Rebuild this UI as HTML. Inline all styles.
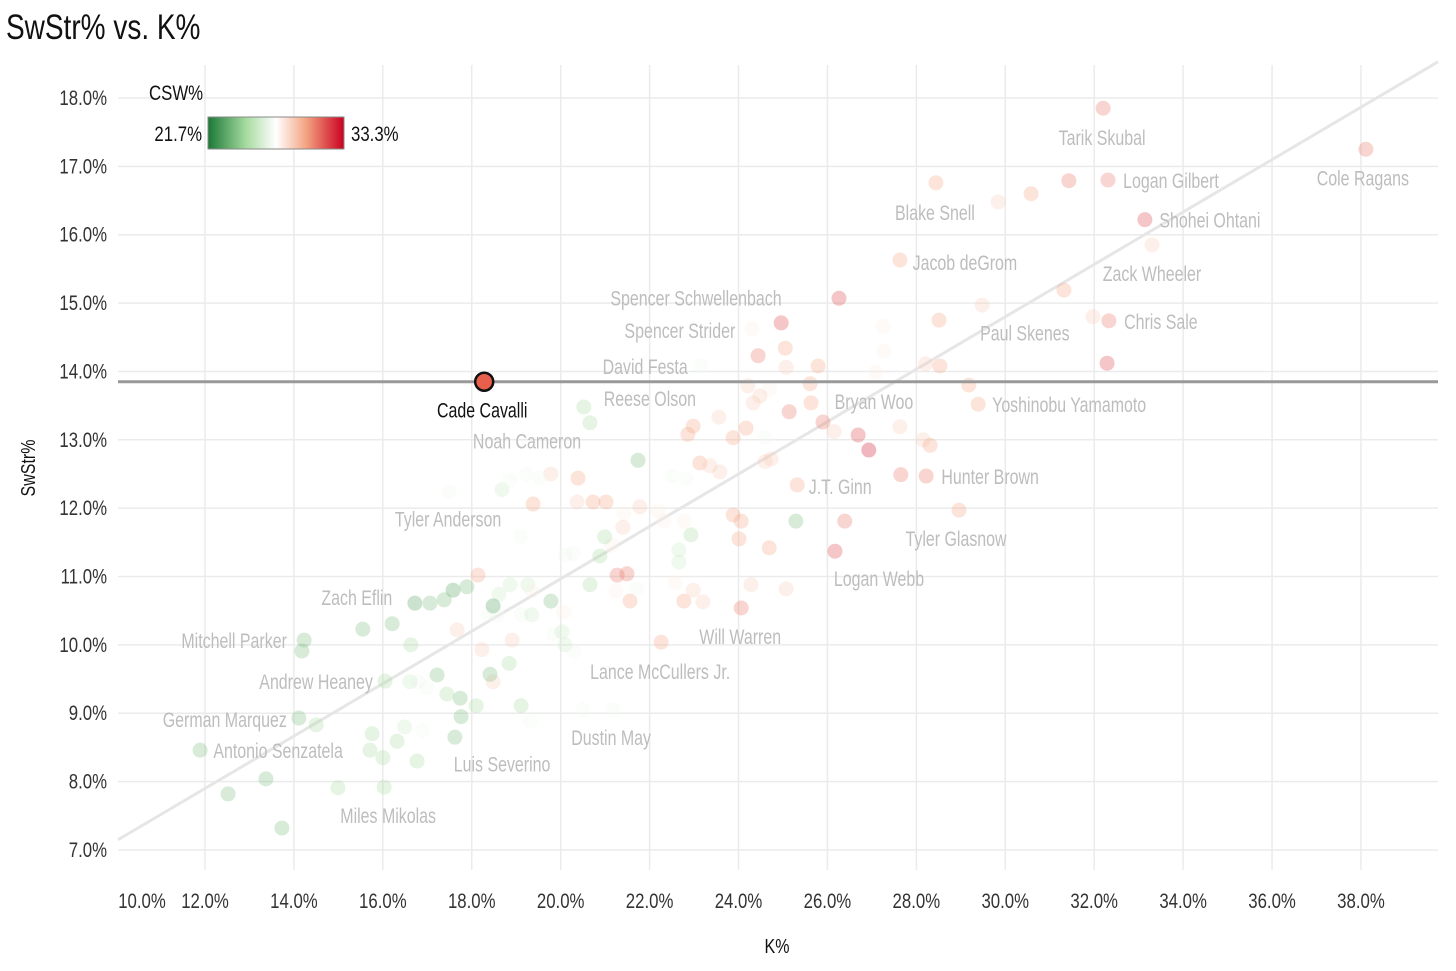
<!DOCTYPE html>
<html><head><meta charset="utf-8"><style>
body{margin:0;background:#fff;}
svg{display:block;font-family:"Liberation Sans Narrow","Liberation Sans",sans-serif;}
</style></head><body>
<svg id="chart" width="1456" height="971" viewBox="0 0 1456 971">
<text class="sq" data-sx="0.8" x="6" y="39" font-size="35" fill="#111">SwStr% vs. K%</text>
<g id="grid"></g>
<g id="marks"></g>
<text transform="translate(35,468) rotate(-90) scale(0.8,1)" text-anchor="middle" font-size="20" fill="#111">SwStr%</text>
<text class="sq" data-sx="0.8" x="777" y="953" text-anchor="middle" font-size="20" fill="#111">K%</text>
<g>
<defs><linearGradient id="cg" x1="0" x2="1" y1="0" y2="0">
<stop offset="0" stop-color="#1b7837"/><stop offset="0.28" stop-color="#a6dba0"/><stop offset="0.5" stop-color="#ffffff"/><stop offset="0.72" stop-color="#f4a582"/><stop offset="1" stop-color="#ca0020"/></linearGradient></defs>
<text class="sq" data-sx="0.8" x="149" y="100" font-size="21" fill="#111">CSW%</text>
<rect x="208" y="117" width="136" height="32" fill="url(#cg)" stroke="#888" stroke-width="1"/>
<text class="sq" data-sx="0.8" x="202" y="141" text-anchor="end" font-size="21" fill="#111">21.7%</text>
<text class="sq" data-sx="0.8" x="351" y="141" font-size="21" fill="#111">33.3%</text>
</g>
</svg>
<script>
const players=["Tarik Skubal","Cole Ragans","Logan Gilbert","Shohei Ohtani","Blake Snell","Jacob deGrom","Zack Wheeler","Chris Sale","Paul Skenes","Spencer Schwellenbach","Spencer Strider","David Festa","Reese Olson","Bryan Woo","Yoshinobu Yamamoto","Noah Cameron","Hunter Brown","J.T. Ginn","Tyler Anderson","Tyler Glasnow","Logan Webb","Zach Eflin","Will Warren","Mitchell Parker","Lance McCullers Jr.","Andrew Heaney","German Marquez","Dustin May","Antonio Senzatela","Luis Severino","Miles Mikolas"];
const playerK=[32.20,38.11,32.31,33.14,28.44,27.63,33.30,32.33,31.97,26.26,24.30,23.16,24.21,25.63,29.39,20.66,28.22,25.32,17.49,28.96,26.17,16.72,24.06,14.23,22.26,16.05,14.11,21.18,11.89,17.76,16.03];
const playerSw=[17.85,17.25,16.80,16.22,16.76,15.63,15.85,14.74,14.80,15.07,14.62,14.08,13.79,13.54,13.52,13.25,12.47,12.34,12.24,11.97,11.37,10.61,10.54,10.07,10.04,9.47,8.93,9.05,8.46,8.95,7.92];
const playerCsw=[31,31,31,32,30,30,29,31,29,32,28,27,29,30,30,25,31,30,27,30,32,23,31,24,30,25,24,27,24,24,25];
const otherK=[29.84,30.58,31.43,31.32,32.29,29.48,28.51,27.25,27.27,27.09,28.21,28.53,29.18,28.15,28.31,27.63,26.69,26.93,25.90,26.15,25.14,25.61,25.79,25.05,24.96,25.07,24.44,24.69,24.33,24.48,24.17,23.88,24.60,23.56,22.98,22.86,23.13,23.36,23.58,24.60,24.73,22.82,22.50,23.88,24.06,24.01,24.69,24.28,25.07,26.39,25.29,27.65,22.77,23.20,22.98,22.57,22.66,22.66,22.93,22.77,22.32,22.19,21.78,21.42,21.40,21.15,20.99,20.88,21.27,21.49,21.56,21.24,21.72,20.66,20.37,20.39,20.73,21.02,19.38,19.78,19.24,19.53,21.74,20.52,20.10,20.28,19.09,18.14,18.86,19.26,19.35,18.61,18.57,18.37,19.11,19.35,19.78,20.07,19.83,20.03,20.10,20.30,18.91,18.23,17.67,18.48,18.84,18.41,18.10,17.74,17.44,17.22,17.62,19.11,19.31,20.50,16.90,16.49,16.99,16.79,16.61,16.32,15.76,15.71,16.00,16.77,14.99,14.50,13.37,12.52,13.73,14.18,15.55,16.21,16.63,17.06,17.38,17.58,17.89,18.48,18.68,18.86];
const otherSw=[16.48,16.60,16.79,15.19,14.12,14.97,14.75,14.66,14.30,13.99,14.11,14.08,13.80,13.00,12.92,13.19,13.07,12.85,13.26,13.12,13.41,13.82,14.08,14.34,14.71,14.06,14.23,13.74,13.54,13.64,13.17,13.03,13.03,13.33,13.20,13.08,12.66,12.62,12.53,12.68,12.72,12.43,12.47,11.90,11.81,11.55,11.42,10.88,10.82,11.81,11.81,12.49,10.64,10.63,10.80,10.91,11.21,11.39,11.61,11.81,11.81,11.96,12.02,11.92,11.72,11.46,11.58,11.30,11.02,11.04,10.64,10.79,10.82,10.88,12.09,12.44,12.09,12.09,12.06,12.50,12.50,12.44,12.70,13.48,11.31,11.34,11.59,11.02,10.88,10.88,10.79,10.74,10.44,10.44,10.44,10.44,10.64,10.48,10.16,10.19,10.00,9.91,10.07,9.93,10.22,9.46,9.73,9.57,9.11,9.22,9.28,9.56,8.65,9.11,8.89,9.05,8.75,8.80,9.38,9.46,9.46,8.59,8.70,8.46,8.35,8.30,7.91,8.83,8.04,7.82,7.32,9.91,10.23,10.31,10.00,10.61,10.66,10.80,10.85,10.57,12.27,12.41];
const otherCsw=[29,30,31,30,32,29,30,28,28,28,29,30,30,29,30,29,32,33,31,29,31,30,30,30,32,29,31,28,29,29,30,30,27,29,30,30,30,29,29,29,29,27,27,30,30,30,30,29,29,31,24,31,30,29,29,28,26,26,25,28,28,28,29,28,29,28,25,25,31,31,30,28,27,25,29,30,30,30,30,29,27,27,24,25,27,27,27,30,26,26,28,26,27,27,27,26,24,28,27,26,26,27,29,29,29,29,25,24,25,24,25,24,24,25,27,27,27,26,27,27,26,25,25,25,25,25,25,25,24,24,24,24,24,24,25,24,24,23,24,23,26,27,25,24,25];
const cadeK=18.28, cadeSw=13.85;
const fitSlope=0.3833, fitIntercept=3.30;
const xTicks=[10,12,14,16,18,20,22,24,26,28,30,32,34,36,38];
const yTicks=[7,8,9,10,11,12,13,14,15,16,17,18];
const labelOff={"Tarik Skubal":[-1,30],"Cole Ragans":[-3,29],"Logan Gilbert":[63,1],"Shohei Ohtani":[65,1],"Blake Snell":[-1,30],"Jacob deGrom":[65,3],"Zack Wheeler":[0,29],"Chris Sale":[52,1],"Paul Skenes":[-68,17],"Spencer Schwellenbach":[-143,0],"Spencer Strider":[-72,2],"David Festa":[-56,1],"Reese Olson":[-98,13],"Bryan Woo":[63,-1],"Yoshinobu Yamamoto":[91,1],"Noah Cameron":[-63,19],"Hunter Brown":[64,1],"J.T. Ginn":[43,2],"Tyler Anderson":[-1,28],"Tyler Glasnow":[-3,29],"Logan Webb":[44,28],"Zach Eflin":[-58,-5],"Will Warren":[-1,29],"Mitchell Parker":[-70,1],"Lance McCullers Jr.":[-1,30],"Andrew Heaney":[-69,1],"German Marquez":[-74,2],"Dustin May":[-2,28],"Antonio Senzatela":[78,1],"Luis Severino":[41,48],"Miles Mikolas":[4,29]};
const X0=118,X1=1438,Y0=65,Y1=870;
function xs(v){return 205+(v-12)*44.46;}
function ys(v){return 98+(18-v)*68.36;}
function col(c){
  const stops=[[21.7,[27,120,55]],[24.95,[166,219,160]],[27.5,[255,255,255]],[30.05,[244,165,130]],[33.3,[202,0,32]]];
  if(c<=stops[0][0])return 'rgb(27,120,55)';
  for(let i=0;i<stops.length-1;i++){const a=stops[i],b=stops[i+1];if(c<=b[0]){const t=(c-a[0])/(b[0]-a[0]);return 'rgb('+a[1].map((v,j)=>Math.round(v+(b[1][j]-v)*t)).join(',')+')';}}
  return 'rgb(202,0,32)';
}
const NS='http://www.w3.org/2000/svg';
function mk(tag,at,parent){const e=document.createElementNS(NS,tag);for(const k in at)e.setAttribute(k,at[k]);parent.appendChild(e);return e;}
const grid=document.getElementById('grid'),marks=document.getElementById('marks');
yTicks.forEach(v=>{
  const l=mk('line',{x1:X0,x2:X1,y1:ys(v),y2:ys(v),stroke:'#ebebeb','stroke-width':1.5},grid);
  
  
  const t=mk('text',{x:107,y:ys(v)+7,'text-anchor':'end','font-size':21,fill:'#333',class:'sq','data-sx':0.8},grid);
  
  
  t.textContent=v.toFixed(1)+'%';
});
xTicks.forEach(v=>{
  const x=xs(v);
  if(x>=X0){const l=mk('line',{x1:x,x2:x,y1:Y0,y2:Y1,stroke:'#ebebeb','stroke-width':1.5},grid);
  
  }
  const t=mk('text',{x:Math.max(x,142),y:908,'text-anchor':'middle','font-size':21,fill:'#333',class:'sq','data-sx':0.8},grid);
  
  
  t.textContent=v.toFixed(1)+'%';
});
const kA=(X0-205)/44.46+12,kB=(X1-205)/44.46+12;
const fit=mk('line',{x1:xs(kA),y1:ys(fitSlope*kA+fitIntercept),x2:xs(kB),y2:ys(fitSlope*kB+fitIntercept),stroke:'#e6e6e6','stroke-width':3},marks);


otherK.forEach((k,i)=>{
  const c=mk('circle',{cx:xs(k),cy:ys(otherSw[i]),r:7.5,fill:col(otherCsw[i]),'fill-opacity':0.3},marks);
  
  
});
players.forEach((p,i)=>{
  const x=xs(playerK[i]),y=ys(playerSw[i]);
  const c=mk('circle',{cx:x,cy:y,r:7.5,fill:col(playerCsw[i]),'fill-opacity':0.3},marks);
  
  
});
players.forEach((p,i)=>{
  const x=xs(playerK[i]),y=ys(playerSw[i]);
  const o=labelOff[p]||[0,28];
  const t=mk('text',{x:x+o[0],y:y+o[1]+7,'text-anchor':'middle','font-size':21,fill:'#bdbdbd',class:'sq','data-sx':0.76},marks);
  
  
  t.textContent=p;
});
const hl=mk('line',{x1:X0,x2:X1,y1:ys(cadeSw),y2:ys(cadeSw),stroke:'#999','stroke-width':3},marks);


const cc=mk('circle',{cx:xs(cadeK),cy:ys(cadeSw),r:9,fill:'#e8604c',stroke:'#111','stroke-width':2.5},marks);


const ct=mk('text',{x:xs(cadeK)-2,y:ys(cadeSw)+36,'text-anchor':'middle','font-size':21,fill:'#111',class:'sq','data-sx':0.76},marks);


ct.textContent='Cade Cavalli';
document.querySelectorAll('text.sq').forEach(t=>{
  const x=parseFloat(t.getAttribute('x')),s=parseFloat(t.getAttribute('data-sx'));
  t.setAttribute('transform','translate('+x+',0) scale('+s+',1) translate('+(-x)+',0)');
});
</script>
</body></html>
